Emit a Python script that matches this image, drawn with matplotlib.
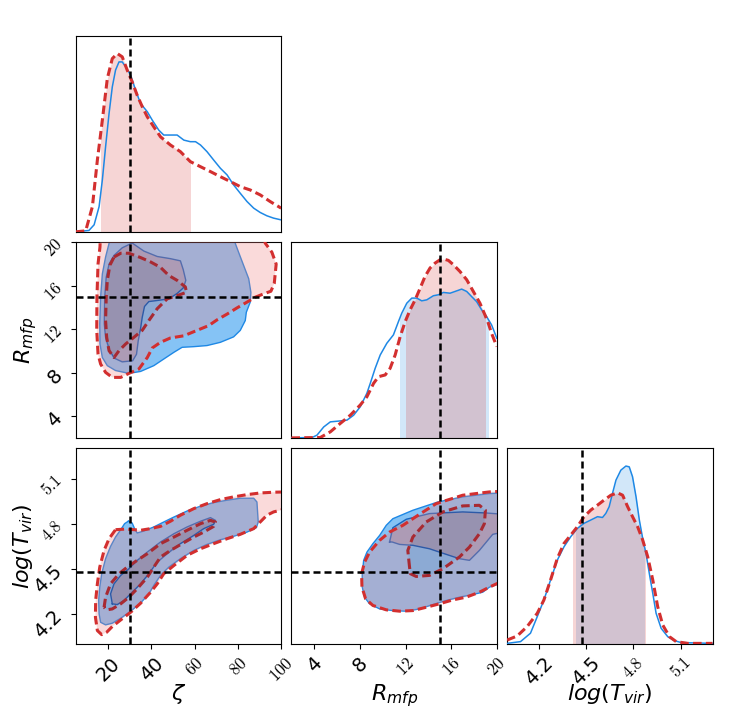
import numpy as np
import matplotlib
matplotlib.use("Agg")
import matplotlib.pyplot as plt
from matplotlib.path import Path
from matplotlib.patches import PathPatch, Rectangle

# true parameter values
zeta_true = 30.0
rmfp_true = 15.0
tvir_true = 4.477

# axis ranges and ticks
zeta_lim = (5, 100)
rmfp_lim = (2, 20)
tvir_lim = (4.0, 5.3)

zeta_ticks = [20, 40, 60, 80, 100]
zeta_ticklabels = ["20", "40", "$60$", "$80$", "$100$"]
rmfp_ticks = [4, 8, 12, 16, 20]
rmfp_ticklabels = ["4", "8", "$12$", "$16$", "$20$"]
tvir_ticks = [4.2, 4.5, 4.8, 5.1]
tvir_ticklabels = ["4.2", "4.5", "$4.8$", "$5.1$"]

# 1D marginals (heights in units of the panel height)
zeta_blue_x = [5, 11.1, 13.5, 15.8, 17.3, 18.8, 20.4, 21.9, 23.4, 25.0, 26.5, 28.1, 30.4, 32.7,
               35.0, 38.1, 40.4, 43.4, 45.7, 48.8, 51.9, 55.0, 58.0, 60.4, 62.7, 65.7, 68.8,
               71.9, 75.0, 78.0, 81.1, 84.2, 87.3, 90.3, 93.4, 96.5, 100]
zeta_blue_y = [0, 0.007, 0.036, 0.129, 0.265, 0.435, 0.605, 0.741, 0.827, 0.869, 0.869, 0.844,
               0.801, 0.724, 0.656, 0.614, 0.571, 0.520, 0.495, 0.495, 0.495, 0.469, 0.461,
               0.461, 0.444, 0.410, 0.367, 0.325, 0.291, 0.240, 0.197, 0.155, 0.121, 0.099,
               0.082, 0.070, 0.061]
zeta_red_x = [5, 9.6, 12.7, 15.0, 17.3, 19.6, 21.9, 24.2, 26.5, 28.8, 31.1, 33.4, 35.8, 38.1,
              41.1, 44.2, 48.8, 53.4, 58.0, 62.7, 67.3, 71.9, 76.5, 81.1, 85.7, 90.3, 94.9, 100]
zeta_red_y = [0, 0.005, 0.129, 0.367, 0.571, 0.784, 0.886, 0.912, 0.895, 0.827, 0.767, 0.699,
              0.639, 0.588, 0.537, 0.486, 0.444, 0.410, 0.359, 0.333, 0.308, 0.282, 0.257,
              0.231, 0.214, 0.189, 0.155, 0.121]
zeta_red_interval = (16.5, 58.0)

rmfp_blue_x = [2, 3.81, 4.24, 4.83, 5.41, 6.14, 6.87, 7.45, 8.03, 8.61, 8.91, 9.34, 9.78, 10.36,
               10.94, 11.38, 11.67, 12.11, 12.55, 12.99, 13.42, 13.86, 14.44, 14.88, 15.32,
               15.9, 16.34, 16.92, 17.36, 17.79, 18.23, 18.67, 19.1, 19.54, 19.83, 20]
rmfp_blue_y = [0, 0.002, 0.014, 0.056, 0.082, 0.086, 0.091, 0.116, 0.159, 0.228, 0.279, 0.356,
               0.424, 0.484, 0.527, 0.595, 0.638, 0.689, 0.715, 0.715, 0.701, 0.706, 0.727,
               0.732, 0.744, 0.740, 0.749, 0.761, 0.749, 0.723, 0.697, 0.655, 0.621, 0.578,
               0.535, 0.510]
rmfp_red_x = [2, 4.53, 5.41, 6.28, 7.16, 8.03, 8.61, 9.2, 9.63, 10.22, 10.65, 11.09, 11.53,
              11.97, 12.4, 12.84, 13.28, 13.71, 14.15, 14.59, 15.02, 15.32, 15.75, 16.19, 16.77,
              17.36, 17.94, 18.52, 18.96, 19.25, 19.54, 19.83, 20]
rmfp_red_y = [0, 0.002, 0.031, 0.074, 0.116, 0.168, 0.210, 0.279, 0.313, 0.322, 0.356, 0.424,
              0.518, 0.595, 0.655, 0.706, 0.766, 0.826, 0.869, 0.894, 0.911, 0.915, 0.908,
              0.886, 0.851, 0.809, 0.749, 0.689, 0.629, 0.587, 0.535, 0.492, 0.467]
rmfp_blue_interval = (11.53, 19.25)
rmfp_red_interval = (12.05, 18.96)

tvir_blue_x = [4.0, 4.085, 4.148, 4.191, 4.233, 4.275, 4.318, 4.36, 4.403, 4.445, 4.487, 4.53,
               4.572, 4.604, 4.625, 4.646, 4.667, 4.689, 4.72, 4.752, 4.773, 4.794, 4.816,
               4.837, 4.858, 4.879, 4.9, 4.922, 4.943, 4.975, 5.017, 5.059, 5.102, 5.3]
tvir_blue_y = [0.003, 0.012, 0.055, 0.14, 0.225, 0.327, 0.429, 0.497, 0.549, 0.591, 0.617,
               0.634, 0.651, 0.647, 0.668, 0.702, 0.77, 0.838, 0.889, 0.91, 0.906, 0.855,
               0.753, 0.634, 0.54, 0.463, 0.361, 0.259, 0.157, 0.08, 0.037, 0.017, 0.007, 0.003]
tvir_red_x = [4.0, 4.064, 4.127, 4.191, 4.233, 4.275, 4.318, 4.36, 4.403, 4.445, 4.487, 4.53,
              4.572, 4.614, 4.657, 4.699, 4.731, 4.763, 4.794, 4.826, 4.858, 4.89, 4.922,
              4.953, 4.985, 5.028, 5.07, 5.144, 5.3]
tvir_red_y = [0.02, 0.041, 0.089, 0.157, 0.225, 0.327, 0.438, 0.514, 0.557, 0.6, 0.651, 0.685,
              0.71, 0.736, 0.761, 0.773, 0.761, 0.702, 0.651, 0.6, 0.532, 0.446, 0.327, 0.191,
              0.097, 0.037, 0.012, 0.003, 0.003]
tvir_blue_interval = (4.434, 4.869)
tvir_red_interval = (4.419, 4.873)

# 2D credible contours (outer = 95%, inner = 68%)
zr_blue_outer = [(21.1, 21.1), (20.4, 19.9), (18.8, 18.65), (17.3, 17.1), (16.5, 14.95),
                 (16.1, 12.5), (16.2, 10.65), (17.3, 9.4), (19.6, 8.65), (23.4, 8.2),
                 (29.6, 7.94), (35.0, 8.12), (41.1, 8.65), (45.7, 9.26), (50.4, 9.88),
                 (54.2, 10.34), (59.6, 10.4), (65.7, 10.5), (71.9, 10.8), (78.0, 11.3),
                 (81.1, 11.9), (83.4, 12.8), (83.9, 13.57), (85.7, 14.5), (86.0, 15.4),
                 (85.0, 16.65), (82.6, 17.9), (80.3, 19.1), (78.8, 19.9), (78.0, 21.1)]
zr_blue_inner = [(31.1, 19.94), (36.5, 19.2), (42.7, 18.7), (48.8, 18.5), (53.4, 18.3),
                 (54.7, 17.5), (55.9, 16.5), (54.7, 15.8), (51.9, 15.3), (48.05, 14.8),
                 (42.7, 14.65), (38.8, 14.55), (36.8, 14.1), (35.75, 13.1), (35.0, 12.1),
                 (33.9, 10.95), (33.1, 9.7), (31.3, 9.1), (26.5, 9.0), (22.7, 9.35),
                 (20.4, 10.15), (18.8, 11.26), (18.2, 12.5), (18.4, 14.95), (19.1, 16.8),
                 (20.4, 18.0), (22.7, 18.8), (26.5, 19.5)]
zr_red_outer = [(16.5, 21.1), (16.2, 19.57), (15.3, 18.0), (14.8, 14.95), (14.7, 11.9),
                (15.3, 9.72), (16.5, 8.8), (18.8, 8.03), (21.9, 7.57), (25.8, 7.57),
                (29.6, 7.94), (34.2, 8.34), (38.1, 9.4), (40.4, 10.28), (44.2, 10.8),
                (48.8, 11.2), (55.0, 11.4), (61.1, 11.9), (66.5, 12.34), (70.3, 12.86),
                (75.0, 13.4), (79.6, 13.97), (84.2, 14.5), (88.0, 14.95), (91.9, 15.26),
                (95.25, 15.5), (96.8, 16.2), (97.7, 18.0), (95.7, 19.1), (92.6, 19.94),
                (91.9, 21.1)]
zr_red_inner = [(22.7, 18.65), (25.8, 19.0), (29.6, 19.0), (35.0, 18.6), (39.6, 18.2),
                (44.2, 17.7), (48.05, 16.95), (51.9, 16.5), (55.7, 15.9), (56.2, 15.4),
                (51.9, 15.1), (47.3, 14.8), (42.7, 13.9), (38.8, 12.8), (35.75, 11.9),
                (31.9, 11.26), (28.1, 10.65), (25.0, 10.03), (22.7, 9.4), (20.4, 10.03),
                (19.3, 11.26), (18.8, 12.8), (19.1, 14.95), (19.6, 16.5), (20.8, 17.9)]

zt_blue_outer = [(29.3, 4.816), (31.1, 4.804), (32.2, 4.767), (33.4, 4.738), (36.5, 4.751),
                 (41.1, 4.778), (45.7, 4.811), (50.4, 4.844), (56.5, 4.884), (62.7, 4.916),
                 (68.8, 4.94), (75.0, 4.956), (81.1, 4.969), (87.3, 4.969), (88.8, 4.944),
                 (89.1, 4.878), (89.4, 4.811), (88.5, 4.773), (84.2, 4.744), (78.0, 4.716),
                 (71.9, 4.693), (65.7, 4.662), (59.6, 4.622), (53.4, 4.567), (48.05, 4.511),
                 (44.2, 4.456), (41.4, 4.396), (38.8, 4.333), (35.0, 4.273), (30.4, 4.218),
                 (25.8, 4.171), (21.9, 4.138), (18.8, 4.127), (16.5, 4.144), (15.8, 4.2),
                 (15.6, 4.289), (16.1, 4.378), (17.0, 4.467), (18.8, 4.567), (21.1, 4.649),
                 (23.4, 4.711), (25.8, 4.76), (27.6, 4.8)]
zt_blue_inner = [(21.9, 4.267), (21.1, 4.333), (22.7, 4.4), (25.8, 4.456), (29.6, 4.5),
                 (33.4, 4.556), (38.1, 4.611), (44.2, 4.678), (50.4, 4.733), (56.5, 4.778),
                 (62.7, 4.816), (67.3, 4.84), (69.6, 4.822), (68.8, 4.796), (64.2, 4.767),
                 (59.6, 4.722), (53.4, 4.667), (47.3, 4.6), (42.7, 4.544), (38.8, 4.467),
                 (35.0, 4.4), (31.1, 4.344), (27.3, 4.289), (24.2, 4.262)]
zt_red_outer = [(23.4, 4.76), (28.1, 4.764), (31.9, 4.76), (35.0, 4.756), (39.6, 4.767),
                (44.2, 4.782), (48.8, 4.816), (53.4, 4.856), (59.6, 4.9), (65.7, 4.933),
                (71.9, 4.96), (78.0, 4.978), (84.2, 4.993), (90.3, 5.004), (96.5, 5.009),
                (102.6, 5.011), (102.6, 4.9), (96.5, 4.878), (93.4, 4.856), (90.3, 4.811),
                (87.3, 4.767), (81.1, 4.729), (75.0, 4.7), (68.8, 4.667), (62.7, 4.633),
                (56.5, 4.589), (50.4, 4.522), (45.7, 4.467), (42.7, 4.4), (39.6, 4.344),
                (35.0, 4.271), (30.4, 4.211), (25.8, 4.16), (21.9, 4.116), (19.3, 4.078),
                (17.0, 4.062), (15.0, 4.089), (14.1, 4.178), (14.2, 4.289), (15.0, 4.4),
                (16.1, 4.511), (18.1, 4.622), (20.4, 4.7)]
zt_red_inner = [(18.1, 4.244), (18.8, 4.311), (21.1, 4.4), (25.0, 4.467), (28.8, 4.511),
                (33.4, 4.556), (38.1, 4.6), (44.2, 4.667), (50.4, 4.711), (56.5, 4.756),
                (62.7, 4.8), (67.3, 4.822), (69.6, 4.811), (68.8, 4.782), (64.2, 4.744),
                (59.6, 4.711), (54.2, 4.667), (48.8, 4.622), (44.2, 4.578), (41.1, 4.511),
                (38.1, 4.444), (33.4, 4.367), (29.6, 4.311), (25.8, 4.267), (21.9, 4.233),
                (19.3, 4.227)]

rt_blue_outer = [(20.6, 5.004), (19.35, 5.0), (17.01, 4.978), (14.83, 4.944), (12.64, 4.889),
                 (10.89, 4.833), (10.31, 4.789), (9.73, 4.722), (9.14, 4.667), (8.62, 4.611),
                 (8.33, 4.556), (8.21, 4.467), (8.21, 4.378), (8.41, 4.311), (8.85, 4.267),
                 (9.73, 4.233), (10.89, 4.222), (12.06, 4.218), (13.22, 4.233), (14.39, 4.262),
                 (15.56, 4.289), (16.72, 4.311), (17.89, 4.329), (18.76, 4.344), (19.35, 4.378),
                 (20.6, 4.411)]
rt_blue_inner = [(10.6, 4.678), (10.89, 4.773), (12.06, 4.829), (14.1, 4.867), (17.01, 4.878),
                 (19.06, 4.871), (20.6, 4.862), (20.6, 4.744), (19.64, 4.729), (18.47, 4.622),
                 (17.6, 4.556), (16.72, 4.567), (15.56, 4.596), (14.1, 4.633), (12.64, 4.656),
                 (11.48, 4.662), (10.83, 4.678)]
rt_red_outer = [(20.6, 5.016), (19.35, 5.011), (17.01, 4.989), (14.68, 4.933), (13.22, 4.862),
                (11.77, 4.789), (10.6, 4.744), (9.73, 4.689), (8.85, 4.611), (8.41, 4.544),
                (8.15, 4.467), (8.18, 4.378), (8.5, 4.3), (9.14, 4.256), (10.31, 4.227),
                (11.48, 4.218), (12.64, 4.222), (13.81, 4.244), (14.97, 4.267), (16.14, 4.293),
                (17.31, 4.311), (18.47, 4.344), (19.35, 4.378), (20.6, 4.422)]
rt_red_inner = [(12.35, 4.511), (12.2, 4.622), (12.64, 4.711), (13.81, 4.811), (15.27, 4.878),
                (17.01, 4.918), (18.47, 4.922), (19.0, 4.889), (18.91, 4.8), (18.47, 4.733),
                (17.6, 4.644), (16.72, 4.578), (15.27, 4.5), (14.1, 4.456), (12.93, 4.449),
                (12.43, 4.467)]

# colours
BLUE = "#1e88e5"
BLUE_DARK = "#1565c0"
RED = "#d32f2f"
RED_DARK = "#a82a32"
BLUE_FILL_OUT = "#85c3f5"
BLUE_FILL_IN = "#92a7cb"
RED_DASH = (2.8, 1.4)
TRUTH_DASH = (2.8, 1.6)


def signed_area(p):
    return 0.5 * np.sum(p[:, 0] * np.roll(p[:, 1], -1) - np.roll(p[:, 0], -1) * p[:, 1])


def ring_path(outer, inner):
    if np.sign(signed_area(outer)) == np.sign(signed_area(inner)):
        inner = inner[::-1]
    verts = np.concatenate([outer, outer[:1], inner, inner[:1]])
    codes = ([Path.MOVETO] + [Path.LINETO] * (len(outer) - 1) + [Path.CLOSEPOLY] +
             [Path.MOVETO] + [Path.LINETO] * (len(inner) - 1) + [Path.CLOSEPOLY])
    return Path(verts, codes)


def closed(p):
    return np.vstack([p, p[:1]])


def draw_2d(ax, b_out, b_in, r_out, r_in):
    bo, bi, ro, ri = (np.asarray(v, dtype=float) for v in (b_out, b_in, r_out, r_in))
    ax.fill(bo[:, 0], bo[:, 1], color=BLUE_FILL_OUT, lw=0, zorder=1)
    ax.fill(bi[:, 0], bi[:, 1], color=BLUE_FILL_IN, lw=0, zorder=1.1)
    ax.plot(*closed(bo).T, color=BLUE, lw=1.0, zorder=2)
    ax.plot(*closed(bi).T, color=BLUE_DARK, lw=1.0, zorder=2)
    ax.add_patch(PathPatch(ring_path(ro, ri), facecolor="#f08080", alpha=0.29, lw=0, zorder=3))
    ax.fill(ri[:, 0], ri[:, 1], color="#b71c1c", alpha=0.15, lw=0, zorder=3)
    ax.plot(*closed(ro).T, color=RED, lw=2.2, dashes=RED_DASH, zorder=4)
    ax.plot(*closed(ri).T, color=RED_DARK, lw=2.2, dashes=RED_DASH, zorder=4)


def shade(ax, x, y, interval, color, alpha):
    coll = ax.fill_between(x, 0, y, color=color, alpha=alpha, lw=0, zorder=1)
    clip = Rectangle((interval[0], 0), interval[1] - interval[0], 1,
                     transform=ax.get_xaxis_transform())
    coll.set_clip_path(clip)


def draw_1d(ax, bx, by, rx, ry, blue_iv, red_iv):
    if blue_iv is not None:
        shade(ax, bx, by, blue_iv, BLUE, 0.2)
    shade(ax, rx, ry, red_iv, RED, 0.2)
    ax.plot(bx, by, color=BLUE, lw=1.1, zorder=3)
    ax.plot(rx, ry, color=RED, lw=2.2, dashes=RED_DASH, zorder=4)
    ax.set_ylim(0, 1)


def style_labels(labels):
    for t in labels:
        if t.get_text().startswith("$"):
            t.set_fontsize(12)
            t.set_math_fontfamily("cm")
        else:
            t.set_fontsize(14)


def set_xt(ax, ticks, labels):
    ax.set_xticks(ticks)
    ax.set_xticklabels(labels, rotation=45)
    style_labels(ax.get_xticklabels())


def set_yt(ax, ticks, labels):
    ax.set_yticks(ticks)
    ax.set_yticklabels(labels, rotation=45)
    style_labels(ax.get_yticklabels())


fig = plt.figure(figsize=(7.5, 7.16), dpi=100)
gs = fig.add_gridspec(3, 3, left=0.101, right=0.950, bottom=0.1006, top=0.9493,
                      wspace=0.05, hspace=0.054)
ax_z = fig.add_subplot(gs[0, 0])
ax_zr = fig.add_subplot(gs[1, 0])
ax_r = fig.add_subplot(gs[1, 1])
ax_zt = fig.add_subplot(gs[2, 0])
ax_rt = fig.add_subplot(gs[2, 1])
ax_t = fig.add_subplot(gs[2, 2])

# diagonal
draw_1d(ax_z, zeta_blue_x, zeta_blue_y, zeta_red_x, zeta_red_y, None, zeta_red_interval)
draw_1d(ax_r, rmfp_blue_x, rmfp_blue_y, rmfp_red_x, rmfp_red_y, rmfp_blue_interval, rmfp_red_interval)
draw_1d(ax_t, tvir_blue_x, tvir_blue_y, tvir_red_x, tvir_red_y, tvir_blue_interval, tvir_red_interval)

# off-diagonal
draw_2d(ax_zr, zr_blue_outer, zr_blue_inner, zr_red_outer, zr_red_inner)
draw_2d(ax_zt, zt_blue_outer, zt_blue_inner, zt_red_outer, zt_red_inner)
draw_2d(ax_rt, rt_blue_outer, rt_blue_inner, rt_red_outer, rt_red_inner)

# limits
for ax in (ax_z, ax_zr, ax_zt):
    ax.set_xlim(*zeta_lim)
for ax in (ax_r, ax_rt):
    ax.set_xlim(*rmfp_lim)
ax_t.set_xlim(*tvir_lim)
ax_zr.set_ylim(*rmfp_lim)
ax_zt.set_ylim(*tvir_lim)
ax_rt.set_ylim(*tvir_lim)

# truth lines
tl = dict(color="black", lw=1.8, dashes=TRUTH_DASH, zorder=6)
for ax in (ax_z, ax_zr, ax_zt):
    ax.axvline(zeta_true, **tl)
for ax in (ax_r, ax_rt):
    ax.axvline(rmfp_true, **tl)
ax_t.axvline(tvir_true, **tl)
ax_zr.axhline(rmfp_true, **tl)
ax_zt.axhline(tvir_true, **tl)
ax_rt.axhline(tvir_true, **tl)

# ticks
for ax in (ax_z, ax_zr, ax_r, ax_zt, ax_rt, ax_t):
    ax.tick_params(left=False, bottom=False, labelleft=False, labelbottom=False)
ax_zr.tick_params(left=True, labelleft=True)
set_yt(ax_zr, rmfp_ticks, rmfp_ticklabels)
ax_zt.tick_params(left=True, labelleft=True, bottom=True, labelbottom=True)
set_yt(ax_zt, tvir_ticks, tvir_ticklabels)
set_xt(ax_zt, zeta_ticks, zeta_ticklabels)
ax_rt.tick_params(bottom=True, labelbottom=True)
set_xt(ax_rt, rmfp_ticks, rmfp_ticklabels)
ax_t.tick_params(bottom=True, labelbottom=True)
set_xt(ax_t, tvir_ticks, tvir_ticklabels)
ax_z.set_yticks([])
ax_r.set_yticks([])
ax_t.set_yticks([])

# axis labels
ax_zt.set_xlabel(r"$\zeta$", fontsize=16)
ax_rt.set_xlabel(r"$R_{mfp}$", fontsize=16)
ax_t.set_xlabel(r"$log(T_{vir})$", fontsize=16)
ax_zr.set_ylabel(r"$R_{mfp}$", fontsize=16)
ax_zt.set_ylabel(r"$log(T_{vir})$", fontsize=16)
for ax in (ax_zt, ax_rt, ax_t):
    ax.xaxis.set_label_coords(0.5, -0.195)
ax_zr.yaxis.set_label_coords(-0.18, 0.5)
ax_zt.yaxis.set_label_coords(-0.20, 0.5)

fig.savefig("out.png", dpi=100)
